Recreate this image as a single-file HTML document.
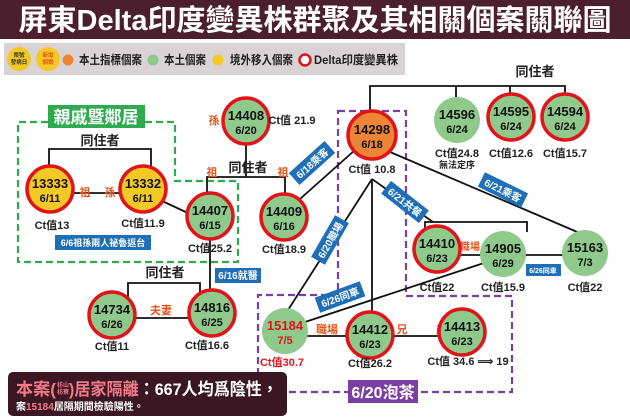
<!DOCTYPE html>
<html><head><meta charset="utf-8"><style>
body{margin:0;background:#fff;}
svg{display:block;font-family:"Liberation Sans","Noto Sans CJK TC",sans-serif;font-weight:bold;}
</style></head><body>
<svg width="630" height="418" viewBox="0 0 630 418" xmlns="http://www.w3.org/2000/svg">
<rect x="0" y="0" width="630" height="39" fill="#4b1f2e"/>
<text x="315" y="30" fill="#fff" font-size="29" text-anchor="middle">屏東Delta印度變異株群聚及其相關個案關聯圖</text>
<rect x="4" y="43" width="401" height="32" fill="#d9d3d6"/>
<circle cx="19" cy="59" r="12" fill="#f5c925"/><text x="19" y="57" font-size="5.5" text-anchor="middle" fill="#333">案號</text><text x="19" y="64" font-size="5.5" text-anchor="middle" fill="#333">發病日</text>
<circle cx="48" cy="59" r="12" fill="#f5c925"/><text x="48" y="57" font-size="5.5" text-anchor="middle" fill="#e24a1b">新增</text><text x="48" y="64" font-size="5.5" text-anchor="middle" fill="#e24a1b">個案</text>
<circle cx="68" cy="60" r="5.5" fill="#ee8436"/><text x="79" y="64" font-size="12" fill="#222" textLength="63" lengthAdjust="spacingAndGlyphs">本土指標個案</text>
<circle cx="153" cy="60" r="5.5" fill="#8fc98b"/><text x="164" y="64" font-size="12" fill="#222" textLength="42" lengthAdjust="spacingAndGlyphs">本土個案</text>
<circle cx="218" cy="60" r="5.5" fill="#f5c925"/><text x="230" y="64" font-size="12" fill="#222" textLength="63" lengthAdjust="spacingAndGlyphs">境外移入個案</text>
<circle cx="305" cy="60" r="5.5" fill="#fff" stroke="#e1141b" stroke-width="2.5"/><text x="314" y="64" font-size="12" fill="#222" textLength="84" lengthAdjust="spacingAndGlyphs">Delta印度變異株</text>

<path d="M48,122 L18,122 L18,262 L238,262 L238,181 L175,181 L175,122 L145,122" fill="none" stroke="#2eaa4f" stroke-width="2.2" stroke-dasharray="7,4"/>
<rect x="48" y="105" width="97" height="23" fill="#2eaa4f"/>
<text x="96" y="123" font-size="17" fill="#fff" text-anchor="middle">親戚暨鄰居</text>
<path d="M338,111 L406,111 L406,296 L512,296 L512,392 L258,392 L258,295 L338,295 Z" fill="none" stroke="#7a3fa0" stroke-width="2.2" stroke-dasharray="7,4"/>
<rect x="348" y="380" width="70" height="23" fill="#7a3fa0"/>
<text x="383" y="398" font-size="16" fill="#fff" text-anchor="middle">6/20泡茶</text>

<g stroke="#111" stroke-width="1.8" fill="none">
<path d="M49,170 L49,149 L151,149 L151,170"/>
<line x1="50" y1="193" x2="143" y2="193"/>
<line x1="160" y1="200" x2="190" y2="214"/>
<path d="M207,195 L207,177 L285,177 L285,197"/>
<line x1="246" y1="143" x2="246" y2="177"/>
<line x1="210" y1="240" x2="210" y2="292"/>
<path d="M128,298 L128,283 L200,283 L200,295"/>
<line x1="130" y1="318" x2="195" y2="318"/>
<line x1="300" y1="199" x2="355" y2="150"/>
<path d="M370,112 L370,86 L565,86 L565,98 M456,86 L456,97 M510,86 L510,97"/>
<line x1="372" y1="179" x2="372" y2="312"/>
<line x1="372" y1="179" x2="288" y2="310"/>
<line x1="372" y1="179" x2="433" y2="222"/>
<path d="M425,230 L425,222 L527,222 L527,232"/>
<line x1="390" y1="152" x2="582" y2="234"/>
<line x1="455" y1="255" x2="485" y2="255"/>
<line x1="520" y1="255" x2="565" y2="255"/>
<line x1="490" y1="261" x2="302" y2="323"/>
<line x1="305" y1="336" x2="350" y2="336"/>
<line x1="392" y1="336" x2="440" y2="336"/>
</g>

<g font-size="10" fill="#fff">
<g transform="translate(312,163) rotate(-42)"><rect x="-24" y="-8" width="48" height="16" fill="#1f6fb8"/><text x="0" y="4" text-anchor="middle">6/18乘客</text></g>
<g transform="translate(405,202) rotate(38)"><rect x="-24" y="-8" width="48" height="16" fill="#1f6fb8"/><text x="0" y="4" text-anchor="middle">6/21共餐</text></g>
<g transform="translate(503,190) rotate(26)"><rect x="-24" y="-8" width="48" height="16" fill="#1f6fb8"/><text x="0" y="4" text-anchor="middle">6/21乘客</text></g>
<g transform="translate(330,240) rotate(-60)"><rect x="-24" y="-8" width="48" height="16" fill="#1f6fb8"/><text x="0" y="4" text-anchor="middle">6/20職場</text></g>
<g transform="translate(340,297) rotate(-20)"><rect x="-24" y="-8" width="48" height="16" fill="#1f6fb8"/><text x="0" y="4" text-anchor="middle">6/26同車</text></g>
<rect x="215" y="268" width="46" height="15" fill="#1f6fb8"/><text x="238" y="279" text-anchor="middle">6/16就醫</text>
<rect x="55" y="235" width="96" height="15" fill="#1f6fb8"/><text x="103" y="246" text-anchor="middle" font-size="9">6/6祖孫兩人祕魯返台</text>
<rect x="526" y="264" width="35" height="12" fill="#1f6fb8"/><text x="543" y="273" text-anchor="middle" font-size="7">6/26同車</text>
</g>

<g font-size="13" fill="#222" text-anchor="middle">
<text x="100" y="145">同住者</text><text x="248" y="172">同住者</text><text x="165" y="277">同住者</text><text x="535" y="76">同住者</text>
</g>
<g font-size="11" fill="#e3541b" text-anchor="middle">
<text x="85" y="196">祖</text><text x="110" y="196">孫</text><text x="214" y="124">孫</text><text x="212" y="176">祖</text><text x="283" y="176">祖</text>
<text x="161" y="314">夫妻</text><text x="470" y="250" font-size="10">職場</text><text x="327" y="333">職場</text><text x="402" y="333">兄</text><text x="441" y="333">弟</text>
</g>

<g font-size="13" text-anchor="middle" fill="#111">
<g stroke="#e1141b" stroke-width="3.5">
<circle cx="50" cy="189" r="23" fill="#f5c925"/>
<circle cx="143" cy="189" r="23" fill="#f5c925"/>
<circle cx="210" cy="216" r="23" fill="#8fc98b"/>
<circle cx="246" cy="121" r="23" fill="#8fc98b"/>
<circle cx="284" cy="217" r="23" fill="#8fc98b"/>
<circle cx="372" cy="135" r="24" fill="#ee8436"/>
<circle cx="511" cy="117" r="23" fill="#8fc98b"/>
<circle cx="565" cy="117" r="23" fill="#8fc98b"/>
<circle cx="437" cy="249" r="23" fill="#8fc98b"/>
<circle cx="112" cy="315" r="23" fill="#8fc98b"/>
<circle cx="212" cy="313" r="23" fill="#8fc98b"/>
<circle cx="370" cy="335" r="23" fill="#8fc98b"/>
<circle cx="462" cy="332" r="23" fill="#8fc98b"/>
</g>
<circle cx="457" cy="120" r="23" fill="#8fc98b"/>
<circle cx="503" cy="254" r="23" fill="#8fc98b"/>
<circle cx="585" cy="253" r="23" fill="#8fc98b"/>
<circle cx="285" cy="331" r="23" fill="#8fc98b"/>

<text x="50" y="188">13333</text><text x="50" y="202" font-size="11">6/11</text>
<text x="143" y="188">13332</text><text x="143" y="202" font-size="11">6/11</text>
<text x="210" y="215">14407</text><text x="210" y="229" font-size="11">6/15</text>
<text x="246" y="120">14408</text><text x="246" y="134" font-size="11">6/20</text>
<text x="284" y="216">14409</text><text x="284" y="230" font-size="11">6/16</text>
<text x="372" y="134">14298</text><text x="372" y="148" font-size="11">6/18</text>
<text x="457" y="119">14596</text><text x="457" y="133" font-size="11">6/24</text>
<text x="511" y="116">14595</text><text x="511" y="130" font-size="11">6/24</text>
<text x="565" y="116">14594</text><text x="565" y="130" font-size="11">6/24</text>
<text x="437" y="248">14410</text><text x="437" y="262" font-size="11">6/23</text>
<text x="503" y="253">14905</text><text x="503" y="267" font-size="11">6/29</text>
<text x="585" y="252">15163</text><text x="585" y="266" font-size="11">7/3</text>
<text x="112" y="314">14734</text><text x="112" y="328" font-size="11">6/26</text>
<text x="212" y="312">14816</text><text x="212" y="326" font-size="11">6/25</text>
<text x="285" y="330" fill="#e1141b">15184</text><text x="285" y="344" font-size="11" fill="#e1141b">7/5</text>
<text x="370" y="334">14412</text><text x="370" y="348" font-size="11">6/23</text>
<text x="462" y="331">14413</text><text x="462" y="345" font-size="11">6/23</text>
</g>

<g font-size="11" fill="#222" text-anchor="middle">
<text x="52" y="229">Ct值13</text><text x="143" y="227">Ct值11.9</text><text x="210" y="252">Ct值25.2</text>
<text x="284" y="253">Ct值18.9</text><text x="292" y="124">Ct值 21.9</text><text x="372" y="173">Ct值 10.8</text>
<text x="457" y="157">Ct值24.8</text><text x="457" y="168" font-size="9">無法定序</text>
<text x="511" y="157">Ct值12.6</text><text x="565" y="157">Ct值15.7</text>
<text x="437" y="291">Ct值22</text><text x="503" y="291">Ct值15.9</text><text x="585" y="291">Ct值22</text>
<text x="112" y="350">Ct值11</text><text x="207" y="349">Ct值16.6</text>
<text x="282" y="366" fill="#e1141b">Ct值30.7</text><text x="370" y="367">Ct值26.2</text><text x="468" y="365">Ct值 34.6 ⟹ 19</text>
</g>

<rect x="8" y="372" width="279" height="44" rx="5" fill="#3b1724"/>
<text x="16" y="395" font-size="17" fill="#f07a8a" textLength="40" lengthAdjust="spacingAndGlyphs">本案(</text>
<text x="57" y="387" font-size="6" fill="#f07a8a">枋山</text>
<text x="57" y="394" font-size="6" fill="#f07a8a">枋寮</text>
<text x="69" y="395" font-size="17" fill="#f07a8a" textLength="209" lengthAdjust="spacingAndGlyphs">)居家隔離<tspan fill="#fff">：667人均爲陰性，</tspan></text>
<text x="16" y="410" font-size="10" fill="#fff">案<tspan fill="#f07a8a">15184</tspan>居隔期間檢驗陽性。</text>
</svg>
</body></html>
